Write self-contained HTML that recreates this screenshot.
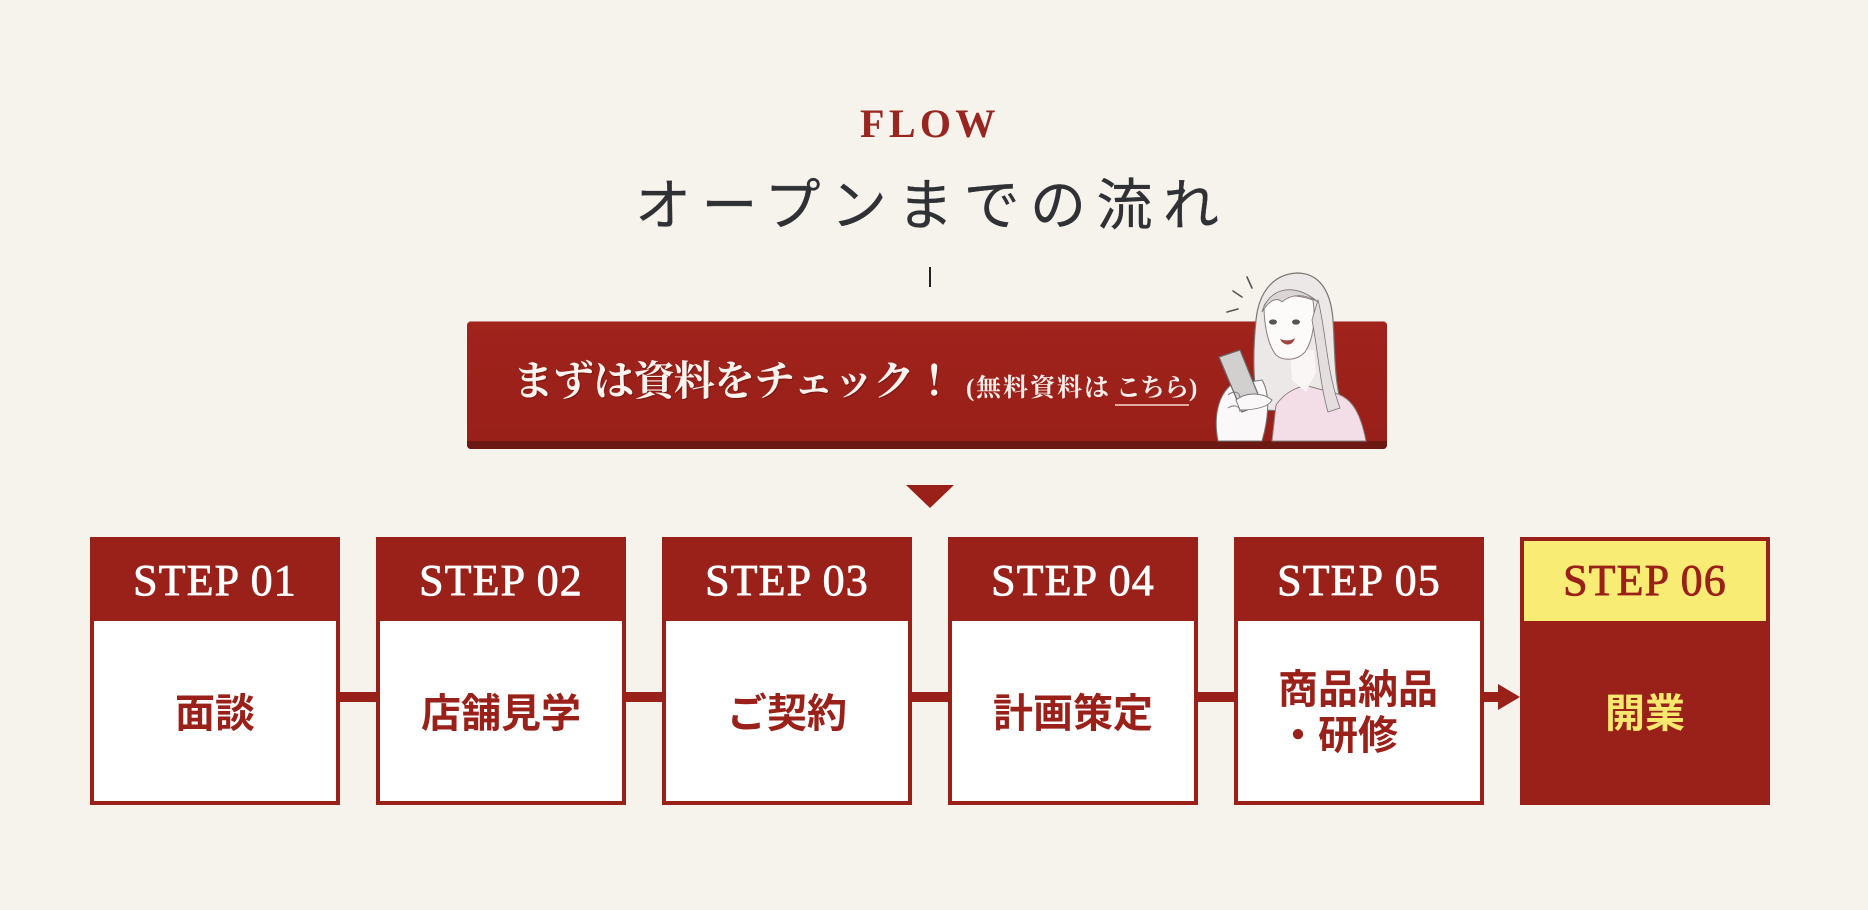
<!DOCTYPE html>
<html lang="ja"><head><meta charset="utf-8">
<style>
*{margin:0;padding:0;box-sizing:border-box}
html,body{width:1868px;height:910px;overflow:hidden;background:#f6f3ed}
.a{position:absolute;white-space:nowrap}
.flow{left:860px;top:104px;font:700 40px/40px "Liberation Serif",serif;color:#9a2520;letter-spacing:4.4px}
.title{left:635px;top:178px;font:400 56px/56px "Liberation Sans","Noto Sans CJK JP",sans-serif;color:#303135;letter-spacing:10.4px;-webkit-text-stroke:.3px #303135}
.bar{left:929px;top:267px;width:2px;height:20px;background:#222}
.banner{left:467px;top:321px;width:920px;height:128px;border-radius:4px;background:linear-gradient(#a0231c,#981f18);overflow:hidden;border-top:1px solid #c9847c}
.banner .band{position:absolute;left:0;bottom:0;width:100%;height:8px;background:#6c1913}
.btxt{left:513px;top:361px;font:700 41px/41px "Liberation Serif","Noto Serif CJK SC",serif;color:#fbf3ee;letter-spacing:-0.8px;text-shadow:1px 1px 1px rgba(60,0,0,.35)}
.stxt{top:376px;font:700 25px/25px "Liberation Serif","Noto Serif CJK SC",serif;color:#f8eee9}
.tri{left:906px;top:485px;width:0;height:0;border-left:24px solid transparent;border-right:24px solid transparent;border-top:23px solid #9a2119}
.box{position:absolute;top:537px;width:250px;height:268px;background:#9a2119}
.box .body{position:absolute;left:4px;top:84px;width:242px;height:180px;background:#fff}
.box .yl{position:absolute;left:4px;top:4px;width:242px;height:80px;background:#f9ec74}
.box .hd{position:absolute;left:0;top:22px;width:250px;height:44px;text-align:center;font:44px/44px "Liberation Serif",serif;color:#fff;letter-spacing:1.1px;-webkit-text-stroke:.8px #fff;white-space:nowrap}
.box .tx{position:absolute;left:0;top:157px;width:250px;text-align:center;font:700 40px/40px "Liberation Sans","Noto Sans CJK JP",sans-serif;color:#9a2119;white-space:nowrap}
.con{position:absolute;top:692px;height:10px;width:36px;background:#9a2119}
</style></head>
<body>
<div class="a flow">FLOW</div>
<div class="a title">オープンまでの流れ</div>
<div class="a bar"></div>

<div class="a banner"><div class="band"></div></div>
<div class="a btxt">まずは資料をチェック！</div>
<div class="a stxt" style="left:966px">(</div>
<div class="a stxt" style="left:976px;letter-spacing:2px">無料資料は</div>
<div class="a stxt" style="left:1116px;letter-spacing:-1px">こちら</div>
<div class="a" style="left:1115px;top:404px;width:74px;height:2px;background:#e2aaa0"></div>
<div class="a stxt" style="left:1189px">)</div>

<svg class="a" style="left:0;top:0" width="1868" height="910">
 <g stroke="#555" stroke-width="1.6" stroke-linecap="round">
  <line x1="1247" y1="277" x2="1252" y2="288"/>
  <line x1="1233" y1="291" x2="1242" y2="297"/>
  <line x1="1227" y1="312" x2="1238" y2="309"/>
 </g>
 <path d="M1260 410 C1252 385 1253 350 1256 320 C1259 290 1275 274 1297 273 C1320 273 1331 292 1333 320 C1335 350 1334 380 1342 408 L1320 412 Z" fill="#ece8e8" stroke="#7a7474" stroke-width="1.2"/>
 <path d="M1272 441 L1276 405 C1285 392 1298 386 1308 386 L1330 392 C1350 395 1360 410 1366 441 Z" fill="#f3dde7" stroke="#8a8080" stroke-width="1"/>
 <path d="M1290 350 L1292 380 L1306 392 L1316 372 L1314 350 Z" fill="#fbf6f6"/>
 <path d="M1264 306 C1268 296 1292 292 1313 300 C1316 320 1313 340 1305 352 C1298 360 1284 362 1276 355 C1268 345 1264 325 1264 306 Z" fill="#fdfafa" stroke="#8a8080" stroke-width="1"/>
 <path d="M1262 312 C1268 290 1292 280 1318 302 C1306 294 1292 293 1282 302 C1276 296 1268 302 1262 312 Z" fill="#dcd5d5" stroke="#7a7474" stroke-width="0.8"/>
 <path d="M1318 300 C1326 330 1326 370 1340 408 L1328 412 C1320 385 1318 350 1312 320 Z" fill="#e4dede" stroke="#7a7474" stroke-width="0.8"/>
 <ellipse cx="1273" cy="322" rx="4" ry="2.6" fill="#555"/>
 <ellipse cx="1296" cy="322" rx="4" ry="2.6" fill="#555"/>
 <path d="M1280 339 C1285 341 1291 341 1295 338 C1293 346 1284 347 1280 339 Z" fill="#a0443c"/>
 <path d="M1218 441 C1213 415 1219 395 1231 385 L1262 380 C1271 395 1268 420 1262 441 Z" fill="#faf8f8" stroke="#777" stroke-width="1"/>
 <polygon points="1219,357 1240,350 1262,404 1242,412" fill="#d2cfcf" stroke="#6a6a6a" stroke-width="1.2"/>
 <path d="M1236 400 C1246 392 1262 392 1272 400 C1268 408 1252 410 1240 410 Z" fill="#faf8f8" stroke="#777" stroke-width="0.9"/>
 <path d="M1228 395 C1234 390 1240 392 1240 398 M1228 408 C1234 404 1240 406 1240 412" fill="none" stroke="#777" stroke-width="0.9"/>
</svg>

<div class="a tri"></div>

<div class="box" style="left:90px"><div class="body"></div><div class="hd">STEP 01</div><div class="tx">面談</div></div>
<div class="con" style="left:340px"></div>
<div class="box" style="left:376px"><div class="body"></div><div class="hd">STEP 02</div><div class="tx">店舗見学</div></div>
<div class="con" style="left:626px"></div>
<div class="box" style="left:662px"><div class="body"></div><div class="hd">STEP 03</div><div class="tx">ご契約</div></div>
<div class="con" style="left:912px"></div>
<div class="box" style="left:948px"><div class="body"></div><div class="hd">STEP 04</div><div class="tx">計画策定</div></div>
<div class="con" style="left:1198px"></div>
<div class="box" style="left:1234px"><div class="body"></div><div class="hd">STEP 05</div><div class="tx" style="top:130px;line-height:46px"><span style="display:inline-block;text-align:left;white-space:normal;width:162px">商品納品<br>・研修</span></div></div>
<div class="con" style="left:1484px;width:14px"></div>
<div class="a" style="left:1498px;top:683.5px;width:0;height:0;border-top:13.5px solid transparent;border-bottom:13.5px solid transparent;border-left:22px solid #9a2119"></div>
<div class="box" style="left:1520px"><div class="yl"></div><div class="hd" style="color:#9a2119;-webkit-text-stroke:.8px #9a2119">STEP 06</div><div class="tx" style="color:#f8e86e">開業</div></div>
</body></html>
